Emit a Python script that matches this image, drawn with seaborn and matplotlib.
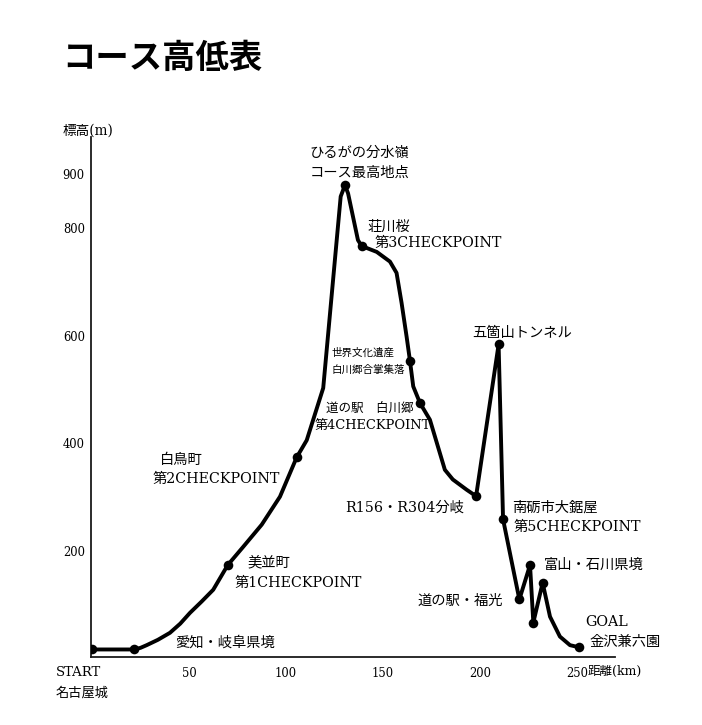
import matplotlib
matplotlib.use("Agg")
import matplotlib.pyplot as plt
import seaborn as sns
import pandas as pd

# ---- data ----
km = [0, 21.8, 25.0, 28.2, 34.0, 40.2, 45.5, 50.5, 56.5, 62.5, 70.0, 78.0, 87.5,
      96.9, 105.5, 110.7, 119.2, 128.2, 130.4, 132.0, 137.1, 139.0, 146.8, 153.6,
      157.0, 159.6, 162.2, 163.9, 165.6, 169.1, 174.2, 181.9, 186.0, 193.1, 198.0,
      209.6, 211.9, 220.3, 225.8, 227.5, 232.3, 236.1, 241.2, 246.4, 251.2]
elev = [17, 17, 20, 25, 35, 48, 65, 85, 106, 128, 174, 208, 249,
        301, 374, 406, 503, 859, 880, 865, 778, 767, 756, 738,
        717, 661, 598, 554, 506, 475, 444, 351, 333, 314, 302,
        584, 259, 110, 174, 67, 141, 78, 41, 25, 21]
marker_idx = [0, 1, 10, 14, 18, 21, 27, 29, 34, 35, 36, 37, 38, 39, 40, 44]

x_ticks = [50, 100, 150, 200, 250]
x_ticklabels = ["50", "100", "150", "200", "250"]
y_ticks = [200, 400, 600, 800, 900]
y_ticklabels = ["200", "400", "600", "800", "900"]

title = "コース高低表"
y_label = "標高(m)"
x_unit = "距離(km)"
start_labels = ["START", "名古屋城"]

df = pd.DataFrame({"km": km, "elev": elev})
dm = df.iloc[marker_idx]

sns.set_style("white")
FAM = ["DejaVu Serif", "Noto Sans CJK JP"]
plt.rcParams["font.family"] = FAM
plt.rcParams["text.color"] = "black"
plt.rcParams["xtick.color"] = "black"
plt.rcParams["ytick.color"] = "black"

fig = plt.figure(figsize=(7.02, 7.25), dpi=100)
ax = fig.add_axes([91 / 702, (725 - 657) / 725, 524 / 702, 520.2 / 725])

sns.lineplot(data=df, x="km", y="elev", sort=False, color="black", lw=2.8, ax=ax,
             estimator=None, solid_joinstyle="round", solid_capstyle="round")
sns.scatterplot(data=dm, x="km", y="elev", color="black", s=48, edgecolor="black",
                linewidth=0, zorder=5, ax=ax)

ax.set_xlim(-0.5, 269.6)
ax.set_ylim(3, 970)
ax.set_xlabel("")
ax.set_ylabel("")
for s in ["top", "right"]:
    ax.spines[s].set_visible(False)
for s in ["left", "bottom"]:
    ax.spines[s].set_color("#1a1a1a")
    ax.spines[s].set_linewidth(1.3)

ax.set_xticks(x_ticks)
ax.set_xticklabels(x_ticklabels)
ax.set_yticks(y_ticks)
ax.set_yticklabels(y_ticklabels)
ax.tick_params(axis="x", direction="in", length=5, width=1.1, pad=7,
               labelsize=8.3, colors="#1a1a1a", labelcolor="black")
ax.tick_params(axis="y", direction="in", length=5, width=1.1, pad=4.5,
               labelsize=8.3, colors="#1a1a1a", labelcolor="black")
for t in ax.get_xticklabels() + ax.get_yticklabels():
    t.set_family(FAM)

# ---- text ----
fig.text(62 / 702, 1 - 58 / 725, title, fontsize=24, fontweight="bold",
         family=["Noto Sans CJK JP"], ha="left", va="center", color="black")

def lab(x, y, s, size=10.3, ha="left"):
    ax.text(x, y, s, fontsize=size, ha=ha, va="center", family=FAM, clip_on=False,
            color="black")

lab(-15, 981, y_label, size=9.8)
lab(255.2, -23, x_unit, size=9)
lab(-18.6, -25, start_labels[0], size=9.5)
lab(-18.6, -64, start_labels[1], size=9.5)

lab(137.7, 940, "ひるがの分水嶺", ha="center")
lab(137.9, 903, "コース最高地点", ha="center")
lab(141.8, 802, "荘川桜")
lab(145.9, 773, "第3CHECKPOINT")
lab(123.7, 568, "世界文化遺産", size=7.6)
lab(123.7, 537, "白川郷合掌集落", size=7.6)
lab(120.6, 465, "道の駅　白川郷", size=9)
lab(114.9, 433, "第4CHECKPOINT", size=9.4)
lab(195.9, 605, "五箇山トンネル")
lab(35.1, 369, "白鳥町")
lab(31.4, 334, "第2CHECKPOINT")
lab(80.4, 179, "美並町")
lab(73.7, 141, "第1CHECKPOINT")
lab(130.4, 280, "R156・R304分岐")
lab(216.5, 280, "南砺市大鋸屋")
lab(217.5, 245, "第5CHECKPOINT")
lab(233.0, 174, "富山・石川県境")
lab(168.0, 107, "道の駅・福光")
lab(254.1, 68, "GOAL")
lab(256.2, 31, "金沢兼六園")
lab(42.8, 29, "愛知・岐阜県境")

fig.savefig("out.png", dpi=100, facecolor="white")
